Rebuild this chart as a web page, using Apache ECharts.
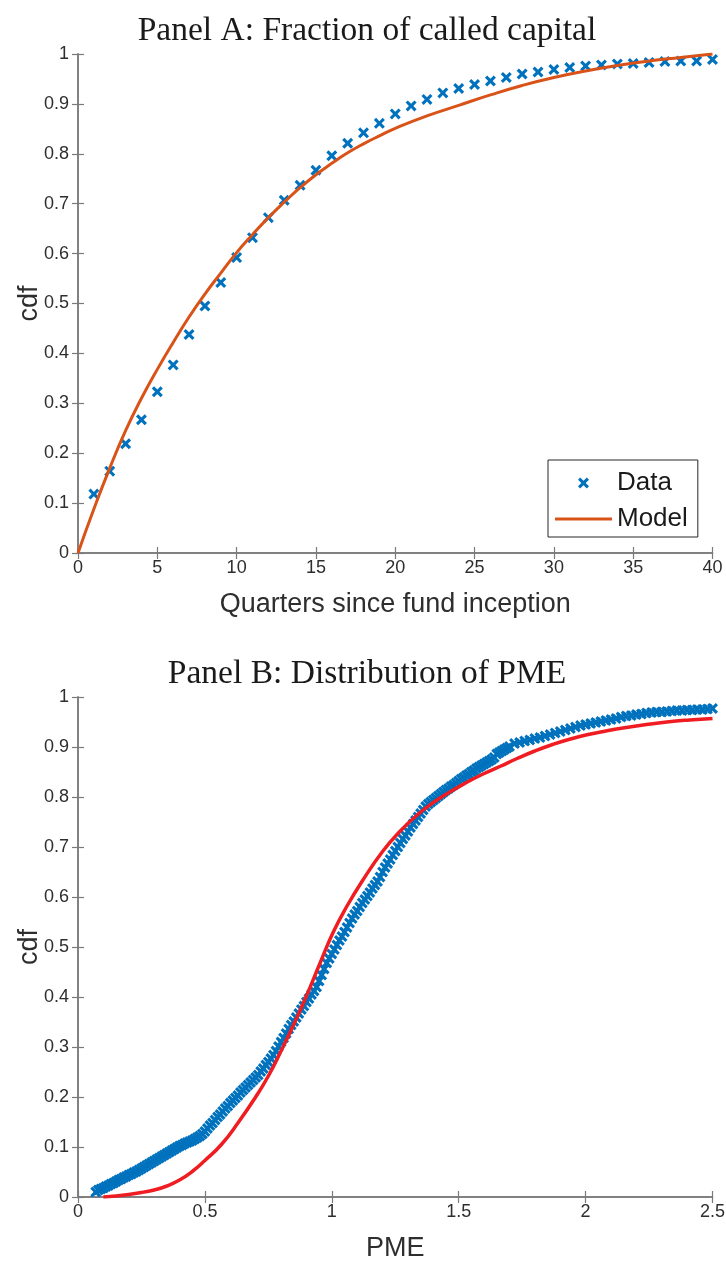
<!DOCTYPE html>
<html>
<head>
<meta charset="utf-8">
<script src="https://cdn.jsdelivr.net/npm/echarts@6/dist/echarts.min.js"></script>
<style>
  html, body { margin: 0; padding: 0; background: #fff; }
  #chart { width: 726px; height: 1262px; }
</style>
</head>
<body>
<div id="chart"></div>
<script>
// Panel A: share of committed capital called, by quarter since inception
const quarters = [1,2,3,4,5,6,7,8,9,10,11,12,13,14,15,16,17,18,19,20,
                  21,22,23,24,25,26,27,28,29,30,31,32,33,34,35,36,37,38,39,40];
const calledData = [0.118,0.164,0.219,0.267,0.323,0.377,0.438,0.495,0.542,0.592,
                    0.632,0.672,0.707,0.737,0.767,0.796,0.821,0.842,0.861,0.880,
                    0.896,0.909,0.922,0.931,0.939,0.946,0.953,0.960,0.964,0.969,
                    0.973,0.976,0.978,0.980,0.981,0.983,0.985,0.986,0.986,0.989];
const modelQuarters = [0,1,2,3,4,5,6,7,8,9,10,11,12,13,14,15,16,17,18,19,20,
                       22,24,26,28,30,32,34,36,38,40];
const modelCalled = [0,0.088,0.170,0.245,0.310,0.368,0.422,0.473,0.519,0.561,0.602,
                     0.638,0.672,0.703,0.732,0.758,0.781,0.802,0.820,0.836,0.851,
                     0.876,0.897,0.918,0.937,0.953,0.966,0.977,0.986,0.993,1.000];

// Panel B: empirical distribution of PME [pme, cdf]
const pmeData = [
  [0.07,0.010],[0.08,0.014],[0.09,0.016],[0.10,0.018],[0.11,0.021],[0.12,0.023],
  [0.13,0.026],[0.14,0.028],[0.15,0.031],[0.16,0.034],[0.17,0.036],[0.18,0.039],
  [0.19,0.041],[0.20,0.044],[0.21,0.046],[0.22,0.049],[0.23,0.051],[0.24,0.054],
  [0.25,0.057],[0.26,0.060],[0.27,0.063],[0.28,0.066],[0.29,0.069],[0.30,0.072],
  [0.31,0.075],[0.32,0.078],[0.33,0.081],[0.34,0.084],[0.35,0.087],[0.36,0.090],
  [0.37,0.093],[0.38,0.096],[0.39,0.099],[0.40,0.102],[0.41,0.104],[0.42,0.107],
  [0.43,0.109],[0.44,0.111],[0.45,0.113],[0.46,0.116],[0.47,0.119],[0.48,0.122],
  [0.49,0.126],[0.50,0.131],[0.51,0.137],[0.52,0.143],[0.53,0.148],[0.54,0.154],
  [0.55,0.160],[0.56,0.165],[0.57,0.171],[0.58,0.177],[0.59,0.182],[0.60,0.188],
  [0.61,0.193],[0.62,0.198],[0.63,0.203],[0.64,0.209],[0.65,0.214],[0.66,0.219],
  [0.67,0.224],[0.68,0.229],[0.69,0.234],[0.70,0.239],[0.71,0.244],[0.72,0.251],
  [0.73,0.257],[0.74,0.264],[0.75,0.270],[0.76,0.277],[0.77,0.284],[0.78,0.292],
  [0.79,0.301],[0.80,0.310],[0.81,0.318],[0.82,0.327],[0.83,0.336],[0.84,0.344],
  [0.85,0.351],[0.86,0.359],[0.87,0.367],[0.88,0.375],[0.89,0.382],[0.90,0.390],
  [0.91,0.397],[0.92,0.405],[0.93,0.412],[0.94,0.420],[0.95,0.432],[0.96,0.444],
  [0.97,0.456],[0.98,0.468],[0.99,0.477],[1.00,0.486],[1.01,0.495],[1.02,0.504],
  [1.03,0.513],[1.04,0.521],[1.05,0.530],[1.06,0.539],[1.07,0.548],[1.08,0.557],
  [1.09,0.565],[1.10,0.572],[1.11,0.580],[1.12,0.588],[1.13,0.595],[1.14,0.602],
  [1.15,0.609],[1.16,0.617],[1.17,0.624],[1.18,0.631],[1.19,0.640],[1.20,0.650],
  [1.21,0.659],[1.22,0.667],[1.23,0.675],[1.24,0.684],[1.25,0.692],[1.26,0.700],
  [1.27,0.708],[1.28,0.716],[1.29,0.723],[1.30,0.731],[1.31,0.739],[1.32,0.746],
  [1.33,0.753],[1.34,0.760],[1.35,0.767],[1.36,0.774],[1.37,0.781],[1.38,0.786],
  [1.39,0.790],[1.40,0.794],[1.41,0.798],[1.42,0.802],[1.43,0.806],[1.44,0.810],
  [1.45,0.814],[1.46,0.817],[1.47,0.821],[1.48,0.824],[1.49,0.828],[1.50,0.832],
  [1.51,0.836],[1.52,0.839],[1.53,0.843],[1.54,0.846],[1.55,0.850],[1.56,0.853],
  [1.57,0.857],[1.58,0.860],[1.59,0.863],[1.60,0.866],[1.61,0.869],[1.62,0.872],
  [1.63,0.875],[1.64,0.879],[1.65,0.886],[1.66,0.889],[1.67,0.892],[1.68,0.895],
  [1.69,0.898],[1.70,0.901],[1.72,0.907],[1.74,0.909],[1.76,0.912],[1.78,0.914],
  [1.80,0.917],[1.82,0.919],[1.84,0.922],[1.86,0.925],[1.88,0.928],[1.90,0.931],
  [1.92,0.934],[1.94,0.937],[1.96,0.940],[1.98,0.943],[2.00,0.945],[2.02,0.947],
  [2.04,0.949],[2.06,0.951],[2.08,0.953],[2.10,0.955],[2.12,0.957],[2.14,0.960],
  [2.16,0.962],[2.18,0.963],[2.20,0.965],[2.22,0.966],[2.24,0.968],[2.26,0.969],
  [2.28,0.970],[2.30,0.970],[2.32,0.971],[2.34,0.972],[2.36,0.973],[2.38,0.973],
  [2.40,0.974],[2.42,0.974],[2.44,0.975],[2.46,0.975],[2.48,0.976],[2.50,0.977]
];
// Model-implied PME distribution [pme, cdf]
const pmeModel = [
  [0.10,0.000],[0.15,0.002],[0.20,0.005],[0.25,0.009],[0.30,0.014],[0.35,0.022],
  [0.40,0.034],[0.45,0.051],[0.50,0.073],[0.565,0.105],[0.63,0.148],[0.70,0.200],
  [0.75,0.242],[0.80,0.292],[0.85,0.345],[0.90,0.402],[0.953,0.467],[1.006,0.530],
  [1.06,0.582],[1.12,0.632],[1.20,0.691],[1.268,0.731],[1.334,0.763],[1.40,0.789],
  [1.465,0.810],[1.531,0.829],[1.596,0.846],[1.662,0.861],[1.73,0.877],[1.80,0.892],
  [1.87,0.905],[1.94,0.916],[2.01,0.925],[2.08,0.932],[2.16,0.939],[2.24,0.945],
  [2.32,0.950],[2.41,0.954],[2.50,0.957]
];

const panelTitles = ['Panel A: Fraction of called capital', 'Panel B: Distribution of PME'];
const xNames = ['Quarters since fund inception', 'PME'];
const yName = 'cdf';

const BLUE = '#0072BD', ORANGE = '#D95319', RED = '#ef1c22';
const AXIS = '#7a7a7a', TEXT = '#2e2e2e';
const SANS = 'Liberation Sans, Arial, Helvetica, sans-serif';
const SERIF = 'Liberation Serif, Times New Roman, serif';
const CROSS = 'path://M0,2 L2,0 L5,3 L8,0 L10,2 L7,5 L10,8 L8,10 L5,7 L2,10 L0,8 L3,5 Z';
const DASH = 'path://M0,0 L57,0 L57,3 L0,3 Z';

function fmt(v) { return String(Math.round(v * 10) / 10); }

function frameAxes(grid, min, max, interval, isX, name) {
  const line = { show: true, lineStyle: { color: AXIS, width: 1.5 } };
  const tick = { show: true, inside: true, length: 6, lineStyle: { color: AXIS, width: 1.2 } };
  const main = {
    gridIndex: grid, type: 'value', min: min, max: max, interval: interval,
    position: isX ? 'bottom' : 'left',
    axisLine: line, axisTick: tick, splitLine: { show: false },
    axisLabel: { fontSize: 18, fontFamily: SANS, color: TEXT, margin: isX ? 6 : 9, formatter: fmt },
    name: name, nameLocation: 'middle', nameGap: isX ? 38 : 35,
    nameMoveOverlap: false,
    nameTextStyle: { fontSize: 27, fontFamily: SANS, color: TEXT }
  };
  const mirror = {
    gridIndex: grid, type: 'value', min: min, max: max, interval: interval,
    position: isX ? 'top' : 'right',
    axisLine: line, axisTick: tick, splitLine: { show: false },
    axisLabel: { show: false }
  };
  return [main, mirror];
}

const chart = echarts.init(document.getElementById('chart'), null, { renderer: 'canvas' });

chart.setOption({
  backgroundColor: '#ffffff',
  animation: false,
  title: [
    { text: panelTitles[0], left: 362, top: 9, textAlign: 'center',
      textStyle: { fontFamily: SERIF, fontWeight: 'normal', fontSize: 33.5, color: '#1a1a1a' } },
    { text: panelTitles[1], left: 362, top: 652, textAlign: 'center',
      textStyle: { fontFamily: SERIF, fontWeight: 'normal', fontSize: 33.5, color: '#1a1a1a' } }
  ],
  grid: [
    { left: 78, top: 54, width: 634.5, height: 499, outerBoundsMode: 'none', containLabel: false },
    { left: 78, top: 697, width: 634.5, height: 500, outerBoundsMode: 'none', containLabel: false }
  ],
  xAxis: [
    ...frameAxes(0, 0, 40, 5, true, xNames[0]),
    ...frameAxes(1, 0, 2.5, 0.5, true, xNames[1])
  ],
  yAxis: [
    ...frameAxes(0, 0, 1, 0.1, false, yName),
    ...frameAxes(1, 0, 1, 0.1, false, yName)
  ],
  legend: {
    orient: 'vertical', left: 548, top: 460,
    padding: [9, 10, 4, 7],
    itemWidth: 57, itemHeight: 11, itemGap: 8,
    symbolKeepAspect: true,
    borderColor: '#262626', borderWidth: 1, backgroundColor: '#ffffff',
    textStyle: { fontSize: 26, fontFamily: SANS, color: '#1a1a1a', lineHeight: 28 },
    selectedMode: false,
    data: [
      { name: 'Data', icon: CROSS, itemStyle: { color: BLUE, opacity: 1 } },
      { name: 'Model', icon: DASH, itemStyle: { color: ORANGE } }
    ]
  },
  series: [
    {
      name: 'Data', type: 'scatter', xAxisIndex: 0, yAxisIndex: 0,
      symbol: CROSS, symbolSize: 11, clip: false,
      itemStyle: { color: BLUE, opacity: 1 },
      data: quarters.map((q, i) => [q, calledData[i]])
    },
    {
      name: 'Model', type: 'line', xAxisIndex: 0, yAxisIndex: 0,
      symbol: 'none', smooth: true,
      lineStyle: { color: ORANGE, width: 3 }, itemStyle: { color: ORANGE },
      data: modelQuarters.map((q, i) => [q, modelCalled[i]])
    },
    {
      name: 'PME data', type: 'scatter', xAxisIndex: 2, yAxisIndex: 2,
      symbol: CROSS, symbolSize: 11, clip: false,
      itemStyle: { color: BLUE, opacity: 1 },
      data: pmeData
    },
    {
      name: 'PME model', type: 'line', xAxisIndex: 2, yAxisIndex: 2,
      symbol: 'none', smooth: true,
      lineStyle: { color: RED, width: 3.5 }, itemStyle: { color: RED },
      data: pmeModel
    }
  ]
});
</script>
</body>
</html>
